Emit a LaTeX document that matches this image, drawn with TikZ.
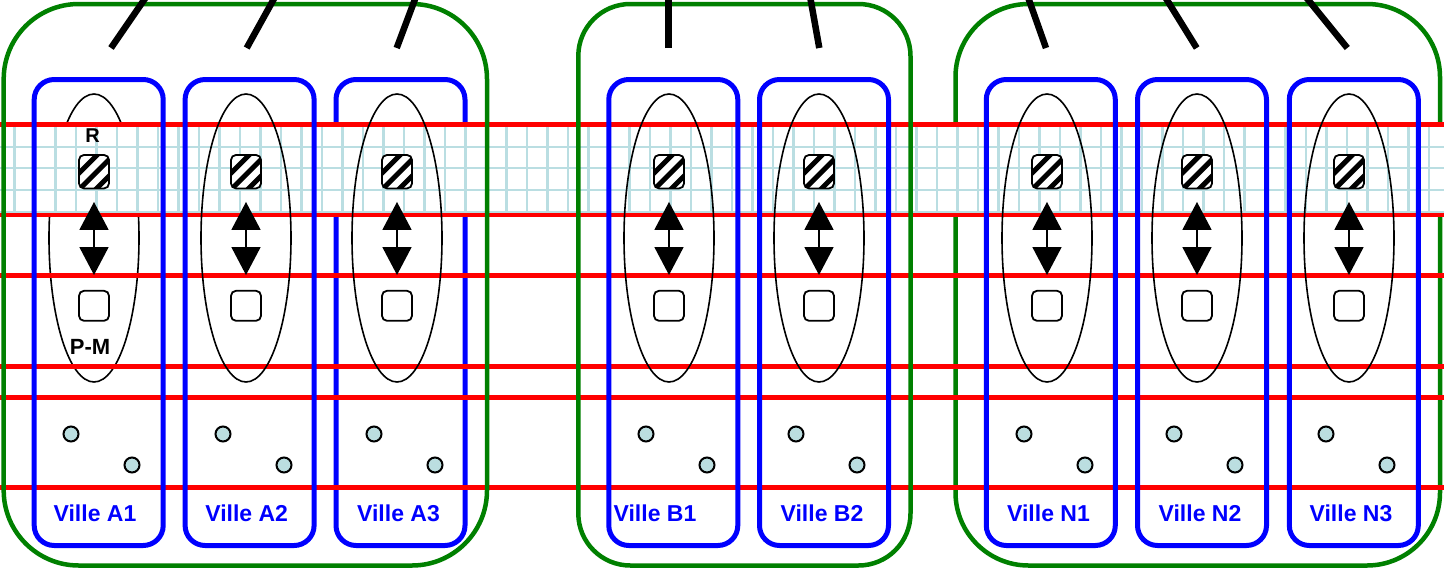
\documentclass[tikz,border=0pt]{standalone}
\usepackage{fontspec}
\setmainfont{Liberation Sans}
\usetikzlibrary{shapes.geometric,arrows.meta,calc}
\definecolor{gridc}{RGB}{186,222,226}
\definecolor{grn}{RGB}{0,128,0}
\definecolor{blu}{RGB}{0,0,255}
\definecolor{redl}{RGB}{255,0,0}
\definecolor{dotc}{RGB}{187,222,224}
\begin{document}
\begin{tikzpicture}[x=1pt,y=-1pt,
  grpbox/.style={draw=grn,line width=4.5pt,inner sep=0,outer sep=0,minimum height=561.5pt},
  villebox/.style={draw=blu,line width=5pt,rounded corners=20pt,minimum width=129pt,minimum height=466pt,inner sep=0,outer sep=0},
  selipse/.style={ellipse,draw=black,line width=1.6pt,minimum width=90pt,minimum height=288pt,inner sep=0,outer sep=0},
  hatchsq/.style={draw=black,line width=1.8pt,rounded corners=5pt,minimum width=30pt,minimum height=33.5pt,inner sep=0,outer sep=0,fill=white,
    path picture={\foreach \k in {-1,0,1}{\draw[line width=5pt] ([xshift=\k*16.5pt+3pt-25pt,yshift=-25pt]path picture bounding box.center) -- ++(50,-50);}}},
  plainsq/.style={draw=black,line width=1.8pt,rounded corners=5pt,minimum width=30pt,minimum height=30pt,inner sep=0,outer sep=0,fill=white},
  citydot/.style={circle,draw=black,line width=2pt,fill=dotc,minimum size=15pt,inner sep=0,outer sep=0},
  villelbl/.style={text=blu,font=\fontsize{23}{23}\selectfont\bfseries,inner sep=0,anchor=base},
  rlbl/.style={text=black,font=\fontsize{20}{20}\selectfont\bfseries,inner sep=0,anchor=base},
  pmlbl/.style={text=black,font=\fontsize{22}{22}\selectfont\bfseries,inner sep=0,anchor=base},
  redline/.style={draw=redl,line width=4.8pt},
  gridline/.style={draw=gridc,line width=2.3pt},
  topline/.style={draw=black,line width=6.5pt},
  dblarrow/.style={line width=1.8pt,{Triangle[width=29pt,length=28pt]}-{Triangle[width=29pt,length=28pt]},shorten <=13.5pt,shorten >=15.8pt}
]
\useasboundingbox (0,0) rectangle (1444,568);
\clip (0,0) rectangle (1444,568);
\fill[white] (0,0) rectangle (1444,568);

% ---- elements lying under the band
\node[grpbox,rounded corners=73pt,minimum width=484.5pt] (gN) at (1197.75,284.75) {};
\node[selipse] (eA1) at (94,238) {};
\node[villebox] (bA3) at (400.5,312.5) {};

% ---- grid band
\fill[white] (0,124) rectangle (1444,215);
\foreach \i in {0,...,70}{\draw[gridline] (14.5+20.5*\i,124) -- (14.5+20.5*\i,215);}
\foreach \yy in {146.7,168.3,190,211.7}{\draw[gridline] (0,\yy) -- (1444,\yy);}

% ---- red lines
\foreach \yy in {124.3,215,275.5,366.7,397.2,487.3}{\draw[redline] (0,\yy) -- (1444,\yy);}

% ---- group and city boxes above the band
\node[grpbox,rounded corners=75pt,minimum width=483.3pt] (gA) at (245.35,284.75) {};
\node[grpbox,rounded corners=52pt,minimum width=332.2pt] (gB) at (744.4,284.75) {};
\node[villebox] (bA1) at (98.7,312.5) {};
\node[villebox] (bA2) at (249.6,312.5) {};
\node[villebox] (bB1) at (673.3,312.5) {};
\node[villebox] (bB2) at (824,312.5) {};
\node[villebox] (bN1) at (1050.8,312.5) {};
\node[villebox] (bN2) at (1202,312.5) {};
\node[villebox] (bN3) at (1353.8,312.5) {};

% ---- ellipses above the band
\foreach \n/\cx in {A2/246,A3/397,B1/669,B2/819,N1/1047,N2/1197,N3/1349}{
  \node[selipse] (e\n) at (\cx,238) {};
}

% ---- R / P-M pairs, arrows and dots
\foreach \n/\cx in {A1/94,A2/246,A3/397,B1/669,B2/819,N1/1047,N2/1197,N3/1349}{
  \node[hatchsq] (h\n) at (\cx,171.7) {};
  \node[plainsq] (p\n) at (\cx,305.8) {};
  \draw[dblarrow] (h\n) -- (p\n);
  \node[citydot] (da\n) at (\cx-23,434) {};
  \node[citydot] (db\n) at (\cx+38,465) {};
}

\node[rlbl] (lR) at (92.5,142.7) {R};
\node[pmlbl] (lPM) at (90,354) {P-M};

% ---- city labels
\node[villelbl] (lA1) at (95,521.7) {Ville A1};
\node[villelbl] (lA2) at (246.7,521.7) {Ville A2};
\node[villelbl] (lA3) at (398.5,521.7) {Ville A3};
\node[villelbl] (lB1) at (655,521.7) {Ville B1};
\node[villelbl] (lB2) at (822,521.7) {Ville B2};
\node[villelbl] (lN1) at (1048.5,521.7) {Ville N1};
\node[villelbl] (lN2) at (1200,521.7) {Ville N2};
\node[villelbl] (lN3) at (1351,521.7) {Ville N3};

% ---- top strokes
\foreach \n/\bx/\tx in {A1/111/144,A2/246.7/273.3,A3/396.7/414.7,B1/668.3/668.3,B2/819.3/810.7,N1/1046/1029,N2/1196.7/1167,N3/1347.3/1308.3}{
  \coordinate (sb\n) at (\bx,48);
  \coordinate (st\n) at (\tx,0);
  \draw[topline] (sb\n) -- ($(sb\n)!1.3!(st\n)$);
}
\end{tikzpicture}
\end{document}
